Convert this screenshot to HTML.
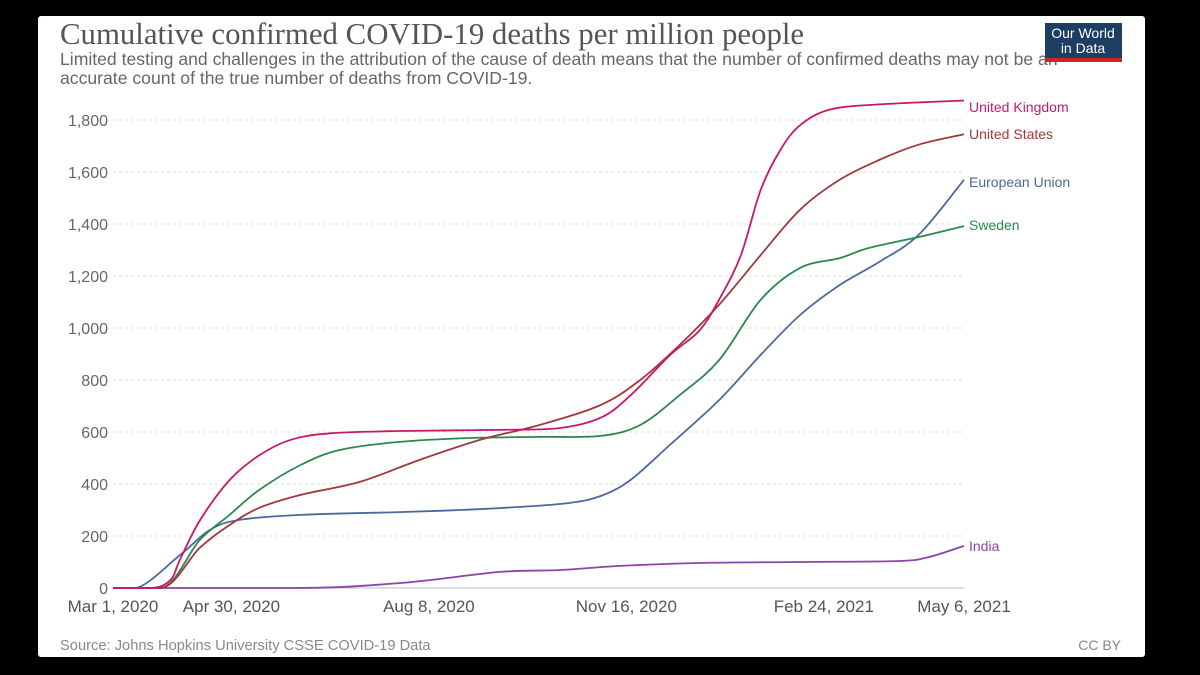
<!DOCTYPE html>
<html><head><meta charset="utf-8"><style>
body{margin:0;background:#000;width:1200px;height:675px;overflow:hidden;font-family:"Liberation Sans",sans-serif}
#panel{position:absolute;left:38px;top:16px;width:1107px;height:641px;background:#fff;border-radius:3px}
</style></head><body>
<div id="panel"></div>
<svg id="chart" width="1200" height="675" style="position:absolute;left:0;top:0">
<text x="60" y="44" font-family="Liberation Serif,serif" font-size="30.8" fill="#555">Cumulative confirmed COVID-19 deaths per million people</text>
<text x="60" y="65" font-size="17.6" fill="#666">Limited testing and challenges in the attribution of the cause of death means that the number of confirmed deaths may not be an</text>
<text x="60" y="84" font-size="17.6" fill="#666">accurate count of the true number of deaths from COVID-19.</text>
<g>
<rect x="1045" y="23" width="77" height="38" fill="#1d3d63"/>
<rect x="1045" y="58" width="77" height="4" fill="#ce261e"/>
<text x="1083" y="38" text-anchor="middle" font-size="14" fill="#fff">Our World</text>
<text x="1083" y="53" text-anchor="middle" font-size="14" fill="#fff">in Data</text>
</g>
<g id="grid"></g><g id="lines"></g>
<text x="60" y="650" font-size="14.7" fill="#888">Source: Johns Hopkins University CSSE COVID-19 Data</text>
<text x="1121" y="650" text-anchor="end" font-size="14" fill="#888">CC BY</text>
</svg>
<script>
const yTicks=[0,200,400,600,800,1000,1200,1400,1600,1800];
const xTickDays=[0,60,160,260,360,431];
const xTickLabels=["Mar 1, 2020","Apr 30, 2020","Aug 8, 2020","Nov 16, 2020","Feb 24, 2021","May 6, 2021"];
const seriesNames=["United Kingdom","United States","European Union","Sweden","India"];
const ukDays=[0,19,29,34,44,59,74,90,110,145,196,226,247,262,282,297,307,318,328,338,348,363,388,431];
const ukVals=[0,0,30,110,260,415,510,570,595,604,608,615,655,740,895,990,1110,1280,1530,1685,1780,1840,1860,1875];
const usDays=[0,24,44,59,74,95,125,155,186,216,247,267,287,307,328,348,368,388,408,431];
const usVals=[0,0,155,242,308,358,408,492,570,627,704,800,935,1090,1280,1455,1570,1646,1705,1745];
const euDays=[0,11,34,49,64,95,145,176,206,231,247,262,282,307,328,348,368,388,408,431];
const euVals=[0,0,127,223,262,281,292,300,312,327,354,415,550,723,896,1050,1165,1254,1358,1570];
const seDays=[0,24,44,59,74,95,115,145,181,216,247,267,287,307,328,348,368,383,408,431];
const seVals=[0,0,185,281,377,473,531,562,577,581,585,627,742,877,1108,1231,1269,1308,1350,1392];
const inDays=[0,90,145,196,226,257,297,348,398,413,431];
const inVals=[0,0,19,62,69,85,96,100,104,119,162];
const colors=["#c8186d","#a2393b","#4c6a9c","#2a8a4e","#8a45a8"];
const X=d=>113+d*851/431, Y=v=>588-v*468/1800;
const NS="http://www.w3.org/2000/svg";
const grid=document.getElementById('grid'), lines=document.getElementById('lines');
function mk(tag,attrs,parent,txt){const e=document.createElementNS(NS,tag);for(const k in attrs)e.setAttribute(k,attrs[k]);if(txt!=null)e.textContent=txt;parent.appendChild(e);return e;}
function smooth(px){const b=Y(0);let d="M"+px[0][0]+","+px[0][1];for(let i=0;i<px.length-1;i++){const p0=px[i-1]||px[i],p1=px[i],p2=px[i+1],p3=px[i+2]||p2;const c1=[p1[0]+(p2[0]-p0[0])/6,Math.min(b,p1[1]+(p2[1]-p0[1])/6)],c2=[p2[0]-(p3[0]-p1[0])/6,Math.min(b,p2[1]-(p3[1]-p1[1])/6)];if(p1[1]==b&&p2[1]==b){c1[1]=b;c2[1]=b;}if(p1[1]==b)c1[1]=b;d+=" C"+c1.join(",")+" "+c2.join(",")+" "+p2.join(",");}return d;}
yTicks.forEach((t,i)=>{
  const l=mk('line',{x1:113,x2:964,y1:Y(t),y2:Y(t),stroke:t?"#ddd":"#bbb","stroke-dasharray":t?"3,3":"none"},grid);
  
  
  const tx=mk('text',{x:108,y:Y(t)+6,"text-anchor":"end","font-size":16,fill:"#666"},grid,t.toLocaleString('en-US'));
  
  
});
xTickDays.forEach((d,i)=>{
  const tx=mk('text',{x:X(d),y:612,"text-anchor":"middle","font-size":17,fill:"#555"},grid,xTickLabels[i]);
  
  
});
const allDays=[ukDays,usDays,euDays,seDays,inDays], allVals=[ukVals,usVals,euVals,seVals,inVals];
const labelY=[107,134,182,225,546];
[4,2,3,1,0].forEach(i=>{
  const px=allDays[i].map((d,j)=>[+X(d).toFixed(1),+Y(allVals[i][j]).toFixed(1)]);
  const p=mk('path',{d:smooth(px),fill:"none",stroke:colors[i],"stroke-width":1.8,"stroke-linejoin":"round"},lines);
  
  
  const t=mk('text',{x:969,y:labelY[i]+5,"font-size":14,fill:colors[i]},lines,seriesNames[i]);
  
  
});
</script>
</body></html>
